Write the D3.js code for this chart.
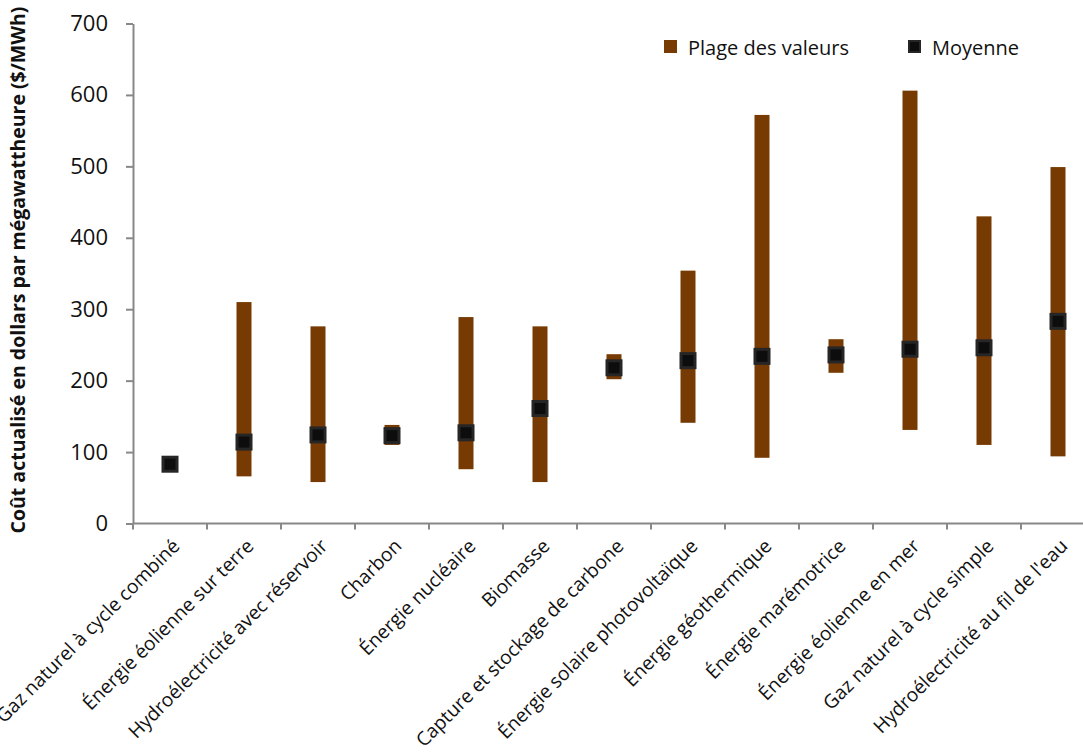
<!DOCTYPE html>
<html lang="fr">
<head>
<meta charset="UTF-8">
<title>Coût actualisé de l'électricité</title>
<script src="https://d3js.org/d3.v7.min.js"></script>
<style>
    body { margin: 0; background: #fff; }
    text { font-family: "Open Sans", "Noto Sans", sans-serif; fill: #111; }
    .axis path, .axis line { stroke: #888; stroke-width: 2; }
</style>
</head>
<body>
<svg width="1083" height="756"></svg>
<script>
// Catégories et valeurs ($/MWh)
const categories = [
    "Gaz naturel à cycle combiné",
    "Énergie éolienne sur terre",
    "Hydroélectricité avec réservoir",
    "Charbon",
    "Énergie nucléaire",
    "Biomasse",
    "Capture et stockage de carbone",
    "Énergie solaire photovoltaïque",
    "Énergie géothermique",
    "Énergie marémotrice",
    "Énergie éolienne en mer",
    "Gaz naturel à cycle simple",
    "Hydroélectricité au fil de l'eau"
];
const rangeLow  = [79, 66, 58, 110, 76, 58, 202, 141, 92, 211, 131, 110, 94];
const rangeHigh = [86, 310, 276, 138, 289, 276, 237, 354, 572, 258, 606, 430, 499];
const means     = [83, 114, 124, 123, 127, 161, 218, 228, 234, 236, 244, 246, 283];
const yTicks = [0, 100, 200, 300, 400, 500, 600, 700];

const brown = "#763a02";

const svg = d3.select("svg");

// Échelles
const x = d3.scaleBand()
    .domain(categories)
    .range([133, 1095])
    .padding(0);

const y = d3.scaleLinear()
    .domain([0, 700])
    .range([523.5, 23.5]);

// Axe des y
const yAxis = svg.append("g")
    .attr("class", "axis")
    .attr("transform", "translate(133,0)")
    .call(d3.axisLeft(y).tickValues(yTicks).tickSize(7).tickPadding(18).tickSizeOuter(0));
yAxis.selectAll("text").style("font-size", "22px");

// Axe des x : graduations aux limites des catégories
const xAxis = svg.append("g")
    .attr("class", "axis")
    .attr("transform", `translate(0,${y(0)})`);
xAxis.append("line")
    .attr("x1", 133).attr("x2", 1095)
    .attr("y1", 0).attr("y2", 0);
xAxis.selectAll(".tk")
    .data(categories)
    .enter().append("line")
    .attr("x1", d => x(d)).attr("x2", d => x(d))
    .attr("y1", 0).attr("y2", 6);

// Étiquettes des catégories, inclinées
svg.append("g").selectAll("text")
    .data(categories)
    .enter().append("text")
    .attr("transform", d => `translate(${x(d) + x.bandwidth() / 2 + 6},${y(0) + 19}) rotate(-45)`)
    .attr("text-anchor", "end")
    .attr("dy", "0.35em")
    .style("font-size", "19.2px")
    .text(d => d);

// Titre de l'axe des y
svg.append("text")
    .attr("transform", "translate(25,270) rotate(-90)")
    .attr("text-anchor", "middle")
    .style("font-size", "19.5px")
    .style("font-weight", "bold")
    .text("Coût actualisé en dollars par mégawattheure ($/MWh)");

// Plages des valeurs
svg.append("g").selectAll("rect")
    .data(categories)
    .enter().append("rect")
    .attr("x", d => x(d) + x.bandwidth() / 2 - 7.5)
    .attr("width", 15)
    .attr("y", (d, i) => y(rangeHigh[i]))
    .attr("height", (d, i) => y(rangeLow[i]) - y(rangeHigh[i]))
    .attr("fill", brown);

// Moyennes
svg.append("g").selectAll("rect")
    .data(categories)
    .enter().append("rect")
    .attr("x", d => x(d) + x.bandwidth() / 2 - 7)
    .attr("y", (d, i) => y(means[i]) - 7)
    .attr("width", 14)
    .attr("height", 14)
    .attr("fill", "#0d0d0d")
    .attr("stroke", "#262626")
    .attr("stroke-width", 3);

// Légende
const legend = svg.append("g");
legend.append("rect")
    .attr("x", 664).attr("y", 40).attr("width", 13).attr("height", 13)
    .attr("fill", brown);
legend.append("text")
    .attr("x", 688).attr("y", 55)
    .style("font-size", "20px")
    .text("Plage des valeurs");
legend.append("rect")
    .attr("x", 909).attr("y", 41).attr("width", 11).attr("height", 11)
    .attr("fill", "#0d0d0d").attr("stroke", "#262626").attr("stroke-width", 2);
legend.append("text")
    .attr("x", 932).attr("y", 55)
    .style("font-size", "20px")
    .text("Moyenne");
</script>
</body>
</html>
